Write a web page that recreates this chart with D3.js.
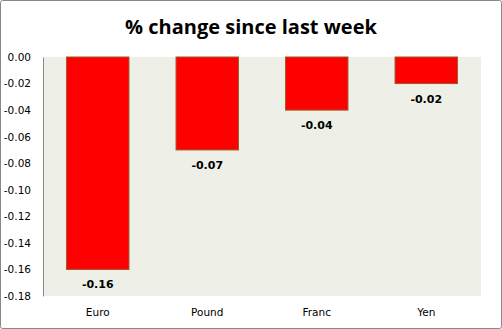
<!DOCTYPE html>
<html><head><meta charset="utf-8">
<script src="https://cdn.jsdelivr.net/npm/d3@7"></script>
<style>body{margin:0;background:#fff}svg{display:block}</style>
</head><body>
<script>
const categories = ["Euro", "Pound", "Franc", "Yen"];
const values = [-0.16, -0.07, -0.04, -0.02];
const yTicks = [0, -0.02, -0.04, -0.06, -0.08, -0.10, -0.12, -0.14, -0.16, -0.18];
const title = "% change since last week";

const W = 502, H = 329;
const m = {left: 43, right: 21, top: 57, bottom: 33};
const svg = d3.select("body").append("svg").attr("width", W).attr("height", H);

svg.append("rect").attr("x", 0.5).attr("y", 0.5).attr("width", W - 1).attr("height", H - 1)
  .attr("fill", "#fff").attr("stroke", "#888").attr("rx", 2);

const x = d3.scaleBand().domain(categories).range([m.left, W - m.right]).paddingInner(0.43).paddingOuter(0.215);
const y = d3.scaleLinear().domain([0, -0.18]).range([m.top, H - m.bottom]);

svg.append("rect").attr("x", m.left).attr("y", m.top).attr("width", W - m.right - m.left)
  .attr("height", H - m.bottom - m.top).attr("fill", "#EEF0E8");

svg.append("text").attr("x", 251).attr("y", 34).attr("text-anchor", "middle")
  .attr("font-family", "'Open Sans', 'Liberation Sans', sans-serif").attr("font-weight", "bold")
  .attr("font-size", 20).attr("fill", "#000").text(title);

svg.selectAll("rect.bar").data(values).enter().append("rect").attr("class", "bar")
  .attr("x", (d, i) => x(categories[i]))
  .attr("y", y(0))
  .attr("width", x.bandwidth())
  .attr("height", d => y(d) - y(0))
  .attr("fill", "#FF0000").attr("stroke", "#9B5A2A").attr("stroke-width", 1);

svg.selectAll("text.lbl").data(values).enter().append("text").attr("class", "lbl")
  .attr("x", (d, i) => x(categories[i]) + x.bandwidth() / 2)
  .attr("y", d => y(d) + 19)
  .attr("text-anchor", "middle").attr("font-family", "'DejaVu Sans', sans-serif")
  .attr("font-weight", "bold").attr("font-size", 11).attr("fill", "#000")
  .text(d => d.toFixed(2));

const yAxis = svg.append("g").attr("transform", `translate(${m.left},0)`)
  .call(d3.axisLeft(y).tickValues(yTicks).tickFormat(d3.format(".2f")).tickSize(0).tickPadding(12));
yAxis.select(".domain").attr("stroke", "#888");
yAxis.selectAll("text").attr("font-family", "'DejaVu Sans', sans-serif").attr("font-size", 10.5).attr("fill", "#000")
  .text(d => d === 0 ? "0.00" : d3.format(".2f")(d).replace("−", "-"));

const xAxis = svg.append("g").attr("transform", `translate(0,${H - m.bottom})`)
  .call(d3.axisBottom(x).tickSize(0).tickPadding(13));
xAxis.select(".domain").remove();
xAxis.selectAll("text").attr("font-family", "'DejaVu Sans', sans-serif").attr("font-size", 10.5).attr("fill", "#000");
</script>
</body></html>
